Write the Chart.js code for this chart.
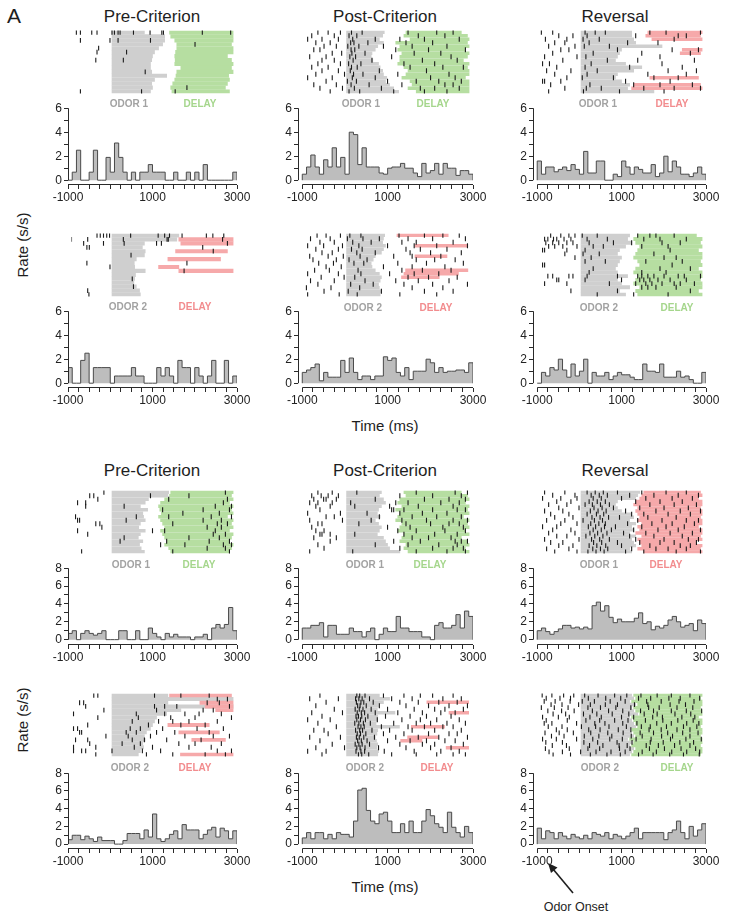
<!DOCTYPE html>
<html><head><meta charset="utf-8">
<script src="https://cdn.jsdelivr.net/npm/chart.js@4.4.1/dist/chart.umd.min.js"></script>
<style>
html,body{margin:0;padding:0;background:#fff;}
#fig{position:relative;width:733px;height:917px;overflow:hidden;background:#fff;font-family:"Liberation Sans",Arial,Helvetica,sans-serif;color:#1e1e1e;}
#fig canvas{position:absolute;}
.t{position:absolute;white-space:nowrap;transform:translate(-50%,-50%);line-height:1;}
.big{font-size:21px;}
.title{font-size:17px;}
.axl{font-size:15px;}
.rot{transform:translate(-50%,-50%) rotate(-90deg);}
.tag{font-size:10px;font-weight:bold;}
.note{font-size:12.5px;}
</style></head><body><div id="fig"></div>
<script>
// ---------- axes ----------
const TIME_MIN = -1000, TIME_MAX = 3000, BIN_MS = 100;
const X_TICKS = [-1000,-750,-500,-250,0,250,500,750,1000,1250,1500,1750,2000,2250,2500,2750,3000];
const X_LABELED = [-1000,1000,3000];
const Y_TICKS_TOP = [0,1,2,3,4,5,6];
const Y_TICKS_BOTTOM = [0,1,2,3,4,5,6,7,8];
const Y_LABELED = [0,2,4,6,8];

// ---------- histograms: rate (s/s) in 100 ms bins from -1000 to 3000 ----------
const A_pre1_rate  = [0,0.67,2.5,0,0,0.67,2.5,0,0,1.9, 0.67,3.1,1.9,0.67,0,0.67,0,0.67,0.67,1.3, 0.67,0.67,0.67,0,0,0.67,0,0,0.67,0, 0.67,0,1.3,0,0,0,0,0,0,0.67];
const A_post1_rate = [0.5,1.1,2.1,1.1,0.5,1.7,1.1,2.7,1.1,1.9, 0.5,4.0,3.8,1.3,2.7,1.1,1.1,1.1,0.6,0.5, 1.0,1.1,1.1,1.4,1.0,1.0,0.6,0.3,1.4,0.6, 0.8,1.4,0.5,1.4,1.0,1.0,0.4,0.8,0.8,0.5];
const A_rev1_rate  = [1.6,0.5,1.1,1.1,0.7,0.9,1.1,0.8,1.3,0.9, 0.5,2.4,0.6,0.6,1.6,1.6,0,0,0.5,0.3, 1.6,1.1,0.5,1.1,0.9,0.6,0.6,1.3,0.3,0.6, 2.0,0.7,1.6,1.1,0.5,0.5,0.3,0.6,1.1,0.5];
const A_pre2_rate  = [1.3,0,0,1.9,2.5,0,1.3,1.3,1.3,1.3, 0,0.6,0.6,0.6,0.6,1.3,0.6,0.6,0,0, 0,1.3,0.6,1.3,0.6,0,1.9,1.3,1.3,0, 1.3,0.6,0,0.6,1.9,0,0,1.9,0,0.6];
const A_post2_rate = [0.9,1.1,1.3,1.6,0.2,0.9,0.5,0.5,0.5,1.9, 0.9,2.1,0.9,0.3,0.6,0.6,0.3,0.6,0.6,2.2, 1.9,2.1,0.9,0.6,1.3,0.3,1.0,1.0,1.0,2.0, 1.7,0.9,1.3,0.9,1.0,1.0,1.1,1.1,0.9,1.7];
const A_rev2_rate  = [0,0.9,0.6,1.3,1.1,2.0,1.1,0.5,1.6,0.6, 1.0,2.0,0,0.9,0.6,0.6,0.9,0.3,0.6,0.9, 0.7,0.7,0.5,0.3,0.3,1.6,1.0,1.0,0.9,1.6, 0.5,0.5,0.5,1.0,0.5,0.6,0.3,0,0,0.9];
const B_pre1_rate  = [0.7,1.0,0,0.7,1.0,0.7,0.5,0.7,1.0,0, 0,0,1.0,1.0,0,0,1.0,0,0,1.3, 0.7,0.3,0,0.7,0.3,0.6,0.3,0.3,0.3,0, 0.3,0.3,0.6,0,1.3,1.7,1.3,1.7,3.6,1.0];
const B_post1_rate = [1.3,1.3,1.6,1.6,1.9,0.3,1.6,1.6,0.6,0.6, 0.6,1.3,0.9,0.9,0.3,0.9,1.3,0,0.6,1.3, 0.9,0.9,2.6,1.3,1.3,0.9,0.9,0.9,0.3,0.3, 0,1.6,1.9,1.3,1.3,1.6,2.8,1.3,3.2,2.6];
const B_rev1_rate  = [1.0,1.3,0.9,0.6,0.9,1.2,1.6,1.6,1.3,1.4, 1.2,1.4,1.2,3.8,4.2,3.2,3.8,2.5,1.9,2.3, 2.0,2.0,2.0,2.4,3.0,1.8,2.0,1.1,1.5,1.3, 1.6,2.2,2.6,2.0,1.4,1.6,1.8,1.0,2.2,1.8];
const B_pre2_rate  = [0.5,1.0,1.0,0.5,0.9,0.6,0.3,0.8,0.4,0.4, 0.4,0,0,0.4,1.2,1.2,1.2,0.6,1.6,0.8, 3.4,0.6,0.3,0.6,1.1,1.5,0.6,2.2,1.6,1.6, 1.6,0.6,1.1,1.6,1.9,0.8,1.8,1.5,0.6,1.5];
const B_post2_rate = [0.7,1.3,0.6,1.3,1.3,0.6,1.1,0.6,1.3,1.1, 1.1,0.8,2.6,6.1,6.3,3.8,2.6,2.3,3.4,3.6, 2.6,1.3,1.3,2.3,1.3,2.6,1.3,1.3,2.6,3.9, 3.2,2.3,1.9,1.3,3.6,1.9,1.3,0.8,2.0,1.3];
const B_rev2_rate  = [1.8,0.6,1.5,1.3,0.6,1.3,0.9,0.6,1.1,0.8, 0.6,1.0,0.6,1.3,1.1,0.9,1.3,0.6,1.1,0.9, 0.6,0.9,1.3,1.8,0.6,1.3,1.3,1.3,1.3,1.3, 0.5,1.3,1.6,2.6,1.3,0.6,2.0,0.9,1.6,2.3];

// ---------- rasters: odor offset per trial (ms), delay [start,end] per trial, spike times per trial ----------
const A_pre1_odorEnd = [800,1300,1300,1250,1150,1050,1000,980,950,950,980,1350,1050,980,1000,950];
const A_pre1_delay = [[1420,3000],[1450,3000],[1550,3000],[1600,2950],[1600,3000],[1570,3000],[1550,2850],[1560,2950],[1550,3000],[1700,2950],[1600,3000],[1580,2880],[1550,2900],[1500,2850],[1450,2800],[1480,2900]];
const A_pre1_spikes = [[-880,-780,-500,-370,0,60,150,200,530,940,1230,1270,2230,2930],[],[-780,-50,150,950],[2050],[-330],[-370,360],[],[-400,280],[],[],[820],[],[],[],[1850],[-780,730,1560]];

const A_post1_odorEnd = [920,880,800,900,760,700,620,600,640,780,820,880,900,980,950,1050,1150,1270];
const A_post1_delay = [[1450,2800],[1400,2950],[1550,3000],[1200,2950],[1300,3000],[1250,2900],[1350,3000],[1300,2950],[1300,2850],[1250,3000],[1400,2950],[1500,3000],[1450,3000],[1350,2900],[1550,3000],[1600,3000],[1500,3000],[1700,3000]];
const A_post1_spikes = [[-700,-450,-150,120,380,1500,2200,2600],[-850,-300,60,250,1750,2400],[-950,-600,-200,150,700,1300,1900,2750],[-750,-400,100,180,520,1450,2100],[-550,-250,30,300,900,1600,2450],[-800,-650,110,200,1200,2000,2900],[-350,-120,130,450,1650,2300],[-900,-500,80,220,1100,2550],[-600,-300,160,620,1850,2700],[-700,-150,50,350,1400,2150],[-850,-450,120,260,1550,2350,2850],[-600,-200,90,800,1950],[-750,-50,170,400,1250,2500],[-950,-350,140,700,2050,2650],[-500,20,240,1000,1700,2250,2800],[-800,-250,110,550,1350,2400,2600],[-650,-100,190,850,1800,2150,2750],[-400,60,320,1150,1900,2450]];

const A_rev1_odorEnd = [1250,1250,1300,1350,2000,1000,950,900,850,1100,1500,1300,900,850,1000,1200,1150,1800];
const A_rev1_delay = [[1650,3000],[1600,2950],[1750,3000],null,null,[2500,3000],[2450,2950],null,null,null,null,null,null,[1700,2900],null,[1300,2950],[1250,3000],null];
const A_rev1_spikes = [[-980,-700,100,350,600,1700,2100,2950],[-550,-200,150,1350,2400,2600],[-880,-350,50,450,2300],[-650,-400,200,1150,1900],[-800,-150,80,700],[-500,-300,900,2250,2900],[-700,300,1500,2700],[-900,-100,120,1950],[-450,650,1400,2800],[-950,-780,250,2000],[-600,100,1200,2500],[-850,-250,400,2150,2850],[-650,150,1650,2600],[-350,30,800,1800,2400],[-950,-900,-500,1100,2200],[-750,220,1300,1950,2750],[-400,130,500,1550,2300,2950],[-800,60,950,2050]];

const A_pre2_odorEnd = [1650,1600,800,750,820,800,600,550,560,820,580,560,540,600,680,700];
const A_pre2_delay = [null,[1650,3000],[1700,3000],null,[1570,2850],null,[1380,2680],null,[1150,1650],[1650,3000],null,null,null,null,null,null];
const A_pre2_spikes = [[-370,-290,-210,-130,-60,460,1140,1300,1420,1730,2330,2490,2760],[-1000,-600,280,1360,1390,2730],[-700,-210,300,1100,1220,2850],[-620,-560,2240],[2500],[470],[],[-620,1850],[-50],[1780],[],[500],[],[530],[-600],[-570]];

const A_post2_odorEnd = [930,900,880,950,900,850,700,650,600,620,700,800,850,820,780,800,830,820];
const A_post2_delay = [[1230,2480],null,null,[1670,2960],null,null,[1670,2450],null,null,null,[1440,2960],[1400,2730],[1340,2260],null,null,null,null,null];
const A_post2_spikes = [[-720,-500,-150,80,350,1280,1900,2350,2750],[-880,-400,20,400,800,1500,2100,2900],[-650,-300,150,600,1350,1700,2600],[-950,-560,-100,300,1000,1650,2200,2950],[-750,-200,120,380,1450,1800,2450],[-600,-350,250,700,1550,2050,2800],[-900,-450,-80,330,1150,1600,2300],[-820,-250,60,500,1700,2150,2650],[-680,-320,180,420,1250,1950,2850],[-500,-130,900,1600,2400],[-780,-420,280,1350,1850,2550],[-950,-200,350,1050,1650,2250],[-620,-60,200,1500,2000,2700],[-880,-300,450,1200,1750,2500],[-700,100,650,1400,2100,2950],[-980,-380,320,1600,2350],[-550,40,850,1900,2600],[-950,-180,260,1300,2200]];

const A_rev2_odorEnd = [1200,1150,1250,1100,950,900,1000,950,900,850,900,1150,900,1000,1200,950,1100];
const A_rev2_delay = [[1400,2850],[1300,3000],[1350,2950],[1450,3000],[1400,2900],[1350,3000],[1300,3000],[1400,2950],[1450,3000],[1350,2900],[1300,3000],[1400,3000],[1350,2950],[1300,3000],[1450,3000],[1350,2900],[1400,3000]];
const A_rev2_spikes = [[-750,-500,-300,-150,30,400,1400,1700,1850,2300],[-900,-820,-680,-600,-420,-250,150,650,1550,1950,2600],[-870,-700,-550,-350,-200,200,800,1250,2000,2450],[-800,-650,-450,-100,300,550,1500,2150],[-950,-900,-350,100,2200],[-400,50,450,1800],[-150,250,2050,2350],[100,600,1600,2500],[-950,-900,2250],[300,1950,2700],[200,1500,2100],[-820,-700,-300,-200,150,900,1400,1500,1650,1800,2050,2400,2550,2950],[-600,-550,100,1000,1450,1550,1700,1900,2200,2600],[-900,-350,700,1350,1600,1750,2000,2300,2450,2800],[1500,1650,1850,2350],[-250,900,2700],[400,1300,2150]];

const B_pre1_odorEnd = [1400,1380,900,820,700,880,760,780,820,700,660,820,700,650,760,680,720,800];
const B_pre1_delay = [[1450,3000],[1420,2950],[1300,3000],[1200,2900],[1150,3000],[1180,2950],[1220,3000],[1150,2850],[1200,3000],[1250,2950],[1300,3000],[1200,2900],[1250,3000],[1300,2950],[1350,2900],[1300,3000],[1400,2950],[1450,2900]];
const B_pre1_spikes = [[-200,2800],[-550,-450,950,1900],[-350,1400,2850],[-850,-650,2750],[-650,300,2550,2950],[1250,2250,2900],[1750,2650],[-900,600,1400,2450,2950],[-850,-800,350,2250,2700],[-400,-300,1500,2600,2850],[-250,2350,2700],[-850,1000,1300,2550],[-600,2500,2800],[300,1900,2650],[200,1350,2400,2900],[1200,1800,2750,2950],[2350,2800],[-750,1500,2900]];

const B_post1_odorEnd = [850,800,900,950,850,780,750,820,700,780,850,800,750,900,950,1000,1050,1300];
const B_post1_delay = [[1400,2800],[1450,2950],[1300,3000],[1250,2900],[1350,3000],[1200,2950],[1300,3000],[1250,2850],[1200,3000],[1350,2950],[1300,3000],[1250,2900],[1400,3000],[1350,2800],[1300,2950],[1450,3000],[1400,2900],[1500,3000]];
const B_post1_spikes = [[-700,-350,250,1700,2650,2950],[-850,-620,-450,-200,1300,2100,2800],[-800,-560,-500,-250,700,1900,2500,2900],[-900,-700,-350,100,1200,1500,2300,2750],[-750,-400,200,1050,1750,2600],[-650,1100,1150,1400,2100,2700,2900],[-950,-150,500,1300,1850,2450],[-500,-300,800,1600,2200,2800],[-900,-100,600,1350,1950,2600,2950],[-700,-600,300,1450,2050,2500,2750],[-850,1000,1550,2350,2850],[-750,-550,1250,1700,2400,2900],[-650,-600,-400,200,1400,2150,2700],[-800,-250,1600,2000,2550],[-400,1150,1800,2650,2800,2950],[-700,700,1500,2250,2700],[-550,1300,2100,2600,2850],[-900,150,1700,2450,2900]];

const B_rev1_odorEnd = [1450,1400,1350,900,850,900,1000,1250,1300,1200,1350,1250,1300,1200,1350,1250,1300,1350,1200,1250];
const B_rev1_delay = [[1550,2950],[1500,3000],[1450,2900],[1350,3000],[1300,3000],[1400,2950],[1350,3000],[1400,3000],[1450,2950],[1400,3000],[1500,3000],[1400,2900],[1450,3000],[1350,3000],[1500,2950],[1400,3000],[1450,2850],[1500,3000],[1400,2950],[1550,3000]];
const B_rev1_spikes = [[-900,-400,150,350,550,900,1500,2100,2600],[-700,-150,250,450,650,1200,1800,2400,2900],[-950,-500,-100,300,500,1000,1600,2250,2750],[-600,-250,200,400,600,1350,1950,2500],[-800,-350,100,280,480,700,1700,2300,2850],[-550,-50,320,520,800,1450,2050,2650],[-900,-450,230,420,620,1100,1850,2450,2950],[-750,-300,150,380,560,1250,1550,2150,2700],[-650,-200,270,470,680,950,1650,2350],[-850,-400,50,330,530,1400,2000,2600,2900],[-500,-100,240,440,600,1150,1750,2250,2800],[-950,-600,180,360,580,850,1500,2100,2550],[-700,-250,300,500,750,1300,1900,2400,2950],[-800,-150,220,410,640,1050,1600,2200,2750],[-600,-350,120,340,540,1200,1800,2500],[-900,-50,260,460,700,1350,2050,2650,2900],[-750,-450,310,510,900,1450,1950,2300,2850],[-550,-200,200,390,610,1000,1700,2450,2700],[-850,-300,290,480,660,1250,1850,2150,2600],[-650,-100,170,370,570,1100,1550,2350,2950]];

const B_pre2_odorEnd = [1380,3000,1380,3000,1700,1350,1100,1050,1000,950,850,800,820,760,780,700,650];
const B_pre2_delay = [[1420,2950],null,[2170,3000],[2300,3000],[2560,3000],null,null,null,[1380,2400],null,[1650,2650],null,[1970,2800],null,null,null,[1690,3000]];
const B_pre2_spikes = [[-450,-350,1050,1700,2400],[2600,2850],[-800,-700,2350,2650],[-650,1050,1300,1600,2900],[-200,1100,2250,2500],[-950,600,1300,1800,2150,2700],[-350,650,1450,2050,2950],[500,1150,1500,1900,2600],[-600,900,1700,2300],[-950,-850,450,700,1250,2100,2750],[-800,-750,350,600,1100,1550,2400],[-150,400,950,1800,2500,2900],[-900,-600,500,800,1350,2200],[-550,250,700,1650,2050,2700],[-950,-400,550,1000,1900,2450],[-950,-750,-650,0,750,1200,2600,2950],[-400,850,1500,2300,2800]];

const B_post2_odorEnd = [800,1050,900,780,750,1180,760,740,720,1290,760,740,700,730,760,740,780,760];
const B_post2_delay = [null,null,[1960,2980],null,null,[2500,2980],null,null,null,[1580,2390],null,null,[1490,2230],[1320,1840],null,[2430,2980],null,null];
const B_post2_spikes = [[-650,250,320,450,900,1400,1800,2100,2600],[-900,-200,220,300,380,560,1100,1600,2350,2800],[-500,240,350,420,650,1300,1750,2250,2700],[-750,270,330,480,800,1450,2000,2500,2950],[-300,210,310,400,600,1000,1650,2150,2400,2850],[-850,-100,260,360,440,700,1250,1850,2300,2650],[-600,230,290,370,520,950,1550,1950,2550],[-950,-400,250,340,460,750,1350,1800,2200,2750],[-700,200,300,410,580,1150,1700,2050,2450,2900],[-250,280,350,430,850,1500,1900,2350,2600],[-800,-550,220,320,390,620,1050,1600,2150,2800],[-450,260,340,470,900,1400,2000,2500,2700],[-900,-150,240,310,420,680,1200,1750,2250,2950],[-650,270,360,500,1000,1550,1950,2400,2650],[-350,210,300,380,560,1300,1850,2150,2850],[-750,-50,250,330,450,780,1450,2050,2550],[-950,-500,230,350,440,920,1650,2300,2750],[-600,290,370,540,1100,1700,2200,2600,2900]];

const B_rev2_odorEnd = [1250,1300,1200,1350,1250,1300,1400,1200,1250,1300,1350,1200,1250,1300,1150,1250,1200,1300,1250,1200];
const B_rev2_delay = [[1300,3000],[1350,2950],[1250,3000],[1400,3000],[1300,2950],[1350,3000],[1450,3000],[1250,2900],[1300,3000],[1350,3000],[1400,2950],[1250,3000],[1300,3000],[1350,2950],[1200,3000],[1300,3000],[1250,2950],[1350,3000],[1300,3000],[1250,2950]];
const B_rev2_spikes = [[-960,-720,-430,-180,90,420,830,1130,1480,1880,2230,2690],[-860,-520,-260,180,610,980,1420,1720,2170,2450,2930],[-910,-640,-270,30,330,720,1090,1620,1980,2420,2790],[-740,-470,-60,230,600,900,1320,1650,2200,2580],[-980,-660,-320,170,480,860,1230,1670,1930,2370,2760],[-820,-480,-170,280,680,1030,1470,1790,2230,2600,2980],[-690,-380,60,390,770,1180,1560,1880,2320,2710],[-950,-560,-290,220,500,1000,1300,1770,2010,2490,2810],[-860,-340,120,460,830,1160,1590,2020,2390,2770],[-910,-720,-110,340,590,1030,1380,1870,2230,2610,2910],[-810,-470,10,360,690,1120,1490,1710,2110,2530,2860],[-610,-340,190,470,920,1230,1680,1980,2370,2690],[-890,-540,-190,240,660,1040,1460,1790,2140,2510,2890],[-730,-420,80,440,760,1240,1510,1990,2260,2690],[-950,-610,-110,290,710,1020,1360,1730,2210,2590,2970],[-870,-460,70,410,890,1260,1710,2030,2440,2780],[-710,-360,210,540,940,1140,1610,1910,2310,2690],[-880,-290,170,460,950,1210,1690,2060,2470,2830],[-790,-460,-10,370,740,1090,1510,1860,2240,2610,2930],[-690,-260,230,640,970,1420,1780,2190,2530,2920]];

// ---------- layout & style (not data) ----------
const GRAY = '#cfcfcf', GREEN = '#b6deA1', PINK = '#f6a9aa';
const TAG_GRAY = '#a2a2a2', TAG_GREEN = '#a5d68c', TAG_PINK = '#f28c8e';
const COLS = [{left:68,right:237,xMin:-1000},{left:298,right:473,xMin:-1100},{left:533,right:706,xMin:-1100}];
const ROWS = [
  {rTop:27, rBot:97, hTop:105, hBot:185, yMin:-0.4, yTicks:Y_TICKS_TOP},
  {rTop:230,rBot:300,hTop:308, hBot:388, yMin:-0.4, yTicks:Y_TICKS_TOP},
  {rTop:487,rBot:557,hTop:565, hBot:645, yMin:-0.6, yTicks:Y_TICKS_BOTTOM},
  {rTop:690,rBot:760,hTop:770, hBot:849, yMin:-0.55,yTicks:Y_TICKS_BOTTOM}
];
const PANELS = [
  {row:0,col:0,rate:A_pre1_rate, odorEnd:A_pre1_odorEnd, delay:A_pre1_delay, spikes:A_pre1_spikes, dc:GREEN},
  {row:0,col:1,rate:A_post1_rate,odorEnd:A_post1_odorEnd,delay:A_post1_delay,spikes:A_post1_spikes,dc:GREEN},
  {row:0,col:2,rate:A_rev1_rate, odorEnd:A_rev1_odorEnd, delay:A_rev1_delay, spikes:A_rev1_spikes, dc:PINK},
  {row:1,col:0,rate:A_pre2_rate, odorEnd:A_pre2_odorEnd, delay:A_pre2_delay, spikes:A_pre2_spikes, dc:PINK},
  {row:1,col:1,rate:A_post2_rate,odorEnd:A_post2_odorEnd,delay:A_post2_delay,spikes:A_post2_spikes,dc:PINK},
  {row:1,col:2,rate:A_rev2_rate, odorEnd:A_rev2_odorEnd, delay:A_rev2_delay, spikes:A_rev2_spikes, dc:GREEN},
  {row:2,col:0,rate:B_pre1_rate, odorEnd:B_pre1_odorEnd, delay:B_pre1_delay, spikes:B_pre1_spikes, dc:GREEN},
  {row:2,col:1,rate:B_post1_rate,odorEnd:B_post1_odorEnd,delay:B_post1_delay,spikes:B_post1_spikes,dc:GREEN},
  {row:2,col:2,rate:B_rev1_rate, odorEnd:B_rev1_odorEnd, delay:B_rev1_delay, spikes:B_rev1_spikes, dc:PINK},
  {row:3,col:0,rate:B_pre2_rate, odorEnd:B_pre2_odorEnd, delay:B_pre2_delay, spikes:B_pre2_spikes, dc:PINK},
  {row:3,col:1,rate:B_post2_rate,odorEnd:B_post2_odorEnd,delay:B_post2_delay,spikes:B_post2_spikes,dc:PINK},
  {row:3,col:2,rate:B_rev2_rate, odorEnd:B_rev2_odorEnd, delay:B_rev2_delay, spikes:B_rev2_spikes, dc:GREEN}
];
const TEXTS = [
  ['A',14,15,'big'],
  ['Pre-Criterion',152,16,'title'],['Post-Criterion',385,16,'title'],['Reversal',615,16,'title'],
  ['Pre-Criterion',152,470,'title'],['Post-Criterion',385,470,'title'],['Reversal',615,470,'title'],
  ['Time (ms)',385,425,'axl'],['Time (ms)',385,886,'axl'],
  ['Odor Onset',576,907,'note'],
  ['ODOR 1',129,104,'tag',TAG_GRAY],['DELAY',200,104,'tag',TAG_GREEN],
  ['ODOR 1',361,104,'tag',TAG_GRAY],['DELAY',433,104,'tag',TAG_GREEN],
  ['ODOR 1',598,104,'tag',TAG_GRAY],['DELAY',672,104,'tag',TAG_PINK],
  ['ODOR 2',128,307,'tag',TAG_GRAY],['DELAY',195,307,'tag',TAG_PINK],
  ['ODOR 2',363,308,'tag',TAG_GRAY],['DELAY',436,308,'tag',TAG_PINK],
  ['ODOR 2',599,308,'tag',TAG_GRAY],['DELAY',677,308,'tag',TAG_GREEN],
  ['ODOR 1',131,565,'tag',TAG_GRAY],['DELAY',199,565,'tag',TAG_GREEN],
  ['ODOR 1',365,565,'tag',TAG_GRAY],['DELAY',430,565,'tag',TAG_GREEN],
  ['ODOR 1',599,565,'tag',TAG_GRAY],['DELAY',666,565,'tag',TAG_PINK],
  ['ODOR 2',130,768,'tag',TAG_GRAY],['DELAY',195,768,'tag',TAG_PINK],
  ['ODOR 2',365,768,'tag',TAG_GRAY],['DELAY',437,768,'tag',TAG_PINK],
  ['ODOR 2',600,768,'tag',TAG_GRAY],['DELAY',677,768,'tag',TAG_GREEN]
];

const fig = document.getElementById('fig');
const FONT = '"Liberation Sans", Arial, Helvetica, sans-serif';
Chart.defaults.font.family = FONT;
Chart.defaults.color = '#222';

function addCanvas(left, top, w, h) {
  const c = document.createElement('canvas');
  c.width = w; c.height = h;
  c.style.left = left + 'px'; c.style.top = top + 'px';
  c.style.width = w + 'px'; c.style.height = h + 'px';
  fig.appendChild(c);
  return c;
}

function stepPoints(rate) {
  const pts = [{x: TIME_MIN, y: 0}];
  rate.forEach((v, k) => pts.push({x: TIME_MIN + k * BIN_MS, y: v}));
  pts.push({x: TIME_MAX, y: rate[rate.length - 1]});
  pts.push({x: TIME_MAX, y: 0});
  return pts;
}

const spinePlugin = {
  id: 'spines',
  afterDraw(chart) {
    const {ctx, chartArea, scales} = chart;
    const x = scales.x, y = scales.y;
    const yTicks = chart.options.plugins.spines.yTicks;
    ctx.save();
    ctx.strokeStyle = '#2a2a2a'; ctx.lineWidth = 1;
    ctx.beginPath();
    const lx = Math.round(chartArea.left) + 0.5;
    ctx.moveTo(lx, y.getPixelForValue(yTicks[0]));
    ctx.lineTo(lx, y.getPixelForValue(yTicks[yTicks.length - 1]));
    const by = Math.round(chartArea.bottom) - 0.5;
    ctx.moveTo(x.getPixelForValue(TIME_MIN), by);
    ctx.lineTo(x.getPixelForValue(TIME_MAX), by);
    ctx.stroke();
    ctx.restore();
  }
};

function drawHistogram(p) {
  const L = COLS[p.col], R = ROWS[p.row];
  const YW = 26, XH = 22, PT = 6, PR = 18;
  const aw = L.right - L.left, ah = R.hBot - R.hTop;
  const c = addCanvas(L.left - YW, R.hTop - PT, aw + YW + PR, ah + PT + XH);
  const yTicks = R.yTicks;
  new Chart(c, {
    type: 'line',
    data: {datasets: [{
      data: stepPoints(p.rate), stepped: true, fill: 'origin',
      backgroundColor: '#bdbdbd', borderColor: '#4a4a4a', borderWidth: 1,
      pointRadius: 0, pointHoverRadius: 0, tension: 0
    }]},
    options: {
      responsive: false, animation: false, devicePixelRatio: 1,
      layout: {padding: {top: PT, right: PR, left: 0, bottom: 0}},
      plugins: {legend: {display: false}, tooltip: {enabled: false}, spines: {yTicks}},
      scales: {
        x: {
          type: 'linear', min: L.xMin, max: TIME_MAX, offset: false,
          afterBuildTicks: s => { s.ticks = X_TICKS.map(v => ({value: v})); },
          afterFit: s => { s.height = XH; },
          ticks: {autoSkip: false, maxRotation: 0, padding: 1, color: '#222',
                  font: {size: 12, family: FONT},
                  callback: v => X_LABELED.includes(v) ? String(v) : ''},
          grid: {display: true, drawOnChartArea: false, drawTicks: true, tickLength: 4,
                 color: '#2a2a2a', tickColor: '#2a2a2a', offset: false},
          border: {display: false}
        },
        y: {
          type: 'linear', min: R.yMin, max: yTicks[yTicks.length - 1], offset: false,
          afterBuildTicks: s => { s.ticks = yTicks.map(v => ({value: v})); },
          afterFit: s => { s.width = YW; },
          ticks: {autoSkip: false, padding: 2, color: '#222',
                  font: {size: 12, family: FONT},
                  callback: v => Y_LABELED.includes(v) ? String(v) : ''},
          grid: {display: true, drawOnChartArea: false, drawTicks: true, tickLength: 4,
                 color: '#2a2a2a', tickColor: '#2a2a2a'},
          border: {display: false}
        }
      }
    },
    plugins: [spinePlugin]
  });
}

function drawRaster(p) {
  const L = COLS[p.col], R = ROWS[p.row];
  const w = L.right - L.left, h = R.rBot - R.rTop;
  const n = p.odorEnd.length, pitch = h / n;
  const c = addCanvas(L.left, R.rTop, w, h);
  const spikePts = [];
  p.spikes.forEach((row, r) => row.forEach(t => spikePts.push({x: t, y: r})));
  new Chart(c, {
    type: 'bar',
    data: {datasets: [
      {indexAxis: 'y', grouped: false, order: 3, barThickness: pitch * 0.78,
       data: p.odorEnd.map((e, r) => ({y: r, x: [0, e]})),
       backgroundColor: GRAY, borderWidth: 0},
      {indexAxis: 'y', grouped: false, order: 2, barThickness: pitch * 0.78,
       data: p.delay.map((d, r) => d ? {y: r, x: d} : null).filter(Boolean),
       backgroundColor: p.dc, borderWidth: 0},
      {type: 'scatter', order: 1, data: spikePts,
       pointStyle: 'line', pointRotation: 90, pointRadius: 2.4, pointHoverRadius: 2.4,
       pointBorderColor: '#1a1a1a', pointBorderWidth: 1.1, borderColor: '#1a1a1a', showLine: false}
    ]},
    options: {
      responsive: false, animation: false, devicePixelRatio: 1,
      layout: {padding: 0},
      plugins: {legend: {display: false}, tooltip: {enabled: false}},
      scales: {
        x: {type: 'linear', min: L.xMin, max: TIME_MAX, display: false, offset: false, grid: {offset: false}},
        y: {type: 'linear', min: -0.5, max: n - 0.5, reverse: true, display: false, offset: false, grid: {offset: false}}
      }
    }
  });
}

PANELS.forEach(p => { drawRaster(p); drawHistogram(p); });

TEXTS.forEach(([t, x, y, cls, color]) => {
  const d = document.createElement('div');
  d.className = 't ' + cls; d.textContent = t;
  d.style.left = x + 'px'; d.style.top = y + 'px';
  if (color) d.style.color = color;
  fig.appendChild(d);
});
[['Rate (s/s)', 22, 245], ['Rate (s/s)', 22, 720]].forEach(([t, x, y]) => {
  const d = document.createElement('div');
  d.className = 't axl rot'; d.textContent = t;
  d.style.left = x + 'px'; d.style.top = y + 'px';
  fig.appendChild(d);
});
const svgNS = 'http://www.w3.org/2000/svg';
const svg = document.createElementNS(svgNS, 'svg');
svg.setAttribute('width', '733'); svg.setAttribute('height', '917');
svg.style.position = 'absolute'; svg.style.left = '0'; svg.style.top = '0';
svg.innerHTML = '<line x1="573" y1="893" x2="553" y2="869" stroke="#1e1e1e" stroke-width="1.6"/>' +
                '<polygon points="548,863 557.5,867.6 551,873" fill="#1e1e1e"/>';
fig.appendChild(svg);
</script></body></html>
